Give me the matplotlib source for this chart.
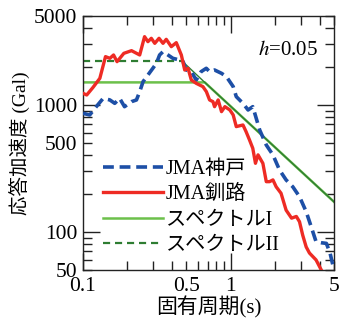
"""
加速度応答スペクトル（h=0.05）：JMA神戸・JMA釧路の観測波形と設計スペクトルI/IIの比較。
"""
import matplotlib
matplotlib.use("Agg")
import matplotlib.pyplot as plt
from matplotlib.ticker import FixedLocator, FixedFormatter

plt.rcParams["font.family"] = ["Liberation Serif", "Noto Sans CJK JP"]
plt.rcParams["mathtext.fontset"] = "stix"

# JMA神戸 (周期 s, 応答加速度 Gal)
kobe_T = [0.100, 0.111, 0.123, 0.137, 0.152, 0.164, 0.177, 0.191, 0.213, 0.230,
          0.242, 0.255, 0.275, 0.297, 0.314, 0.330, 0.348, 0.376, 0.406, 0.450,
          0.476, 0.500, 0.541, 0.584, 0.630, 0.683, 0.719, 0.777, 0.866, 0.935,
          1.039, 1.090, 1.210, 1.310, 1.410, 1.570, 1.740, 1.930, 2.140, 2.370,
          2.630, 2.920, 3.240, 3.500, 3.780, 4.080, 4.440, 4.700, 5.000]
kobe_Sa = [857, 831, 966, 1124, 1091, 1026, 1124, 966, 1058, 1091,
           1268, 1521, 1715, 1937, 2120, 2466, 2620, 2466, 2321, 2251,
           2184, 1878, 1822, 1566, 1822, 1937, 1822, 1878, 1768, 1664,
           1389, 1159, 1026, 910, 966, 633, 482, 403, 306, 256,
           226, 189, 144, 110, 83.5, 82, 81, 68, 50]

# JMA釧路
kushiro_T = [0.100, 0.106, 0.117, 0.130, 0.142, 0.152, 0.161, 0.170, 0.189, 0.213,
             0.242, 0.261, 0.275, 0.290, 0.306, 0.327, 0.348, 0.366, 0.396, 0.428,
             0.463, 0.488, 0.514, 0.541, 0.584, 0.648, 0.684, 0.719, 0.758, 0.777,
             0.822, 0.866, 0.913, 0.986, 1.039, 1.090, 1.210, 1.270, 1.340, 1.410,
             1.470, 1.530, 1.650, 1.740, 1.830, 1.930, 2.030, 2.190, 2.370, 2.580,
             2.780, 2.920, 3.070, 3.240, 3.410, 3.780, 4.080]
kushiro_Sa = [1230, 1194, 1372, 1615, 2393, 2321, 2466, 2184, 2541, 2666,
              2466, 3436, 3140, 3336, 3046, 3336, 3046, 3275, 2868, 3083,
              2466, 1878, 1937, 1566, 1475, 1389, 1268, 1091, 1058, 966,
              1091, 883, 966, 910, 831, 673, 693, 614, 528, 454,
              346, 403, 346, 248, 248, 256, 226, 201, 148, 128,
              132, 120, 94, 76, 68, 60, 50.6]

# 設計スペクトル
spec1_T = [0.1, 0.667, 5.0]
spec1_Sa = [1500, 1500, 172]
spec2_T = [0.1, 0.47, 0.667, 5.0]
spec2_Sa = [2200, 2200, 1500, 172]

fig = plt.figure(figsize=(3.41, 3.23), dpi=100)
ax = fig.add_axes([0.2434, 0.1641, 0.7361, 0.7864])

light_green = "#6cc04a"
dark_green = "#2e7d32"

ax.plot(kobe_T, kobe_Sa, color="#1d4fa6", lw=2.6, dashes=(3, 1.6),
        label="JMA神戸", zorder=3)
ax.plot(kushiro_T, kushiro_Sa, color="#ee2b24", lw=2.4,
        label="JMA釧路", zorder=4)
ax.plot(spec1_T, spec1_Sa, color=light_green, lw=1.8,
        label="スペクトルI", zorder=2)
ax.plot(spec2_T[:2], spec2_Sa[:2], color=dark_green, lw=1.6, dashes=(3.2, 2.2),
        label="スペクトルII", zorder=2)
ax.plot(spec2_T[1:], spec2_Sa[1:], color=dark_green, lw=1.0, zorder=2)

ax.set_xscale("log")
ax.set_yscale("log")
ax.set_xlim(0.1, 5)
ax.set_ylim(50, 5000)

ax.xaxis.set_major_locator(FixedLocator([0.1, 1]))
ax.xaxis.set_major_formatter(FixedFormatter(["0.1", "1"]))
x_minor = [0.2, 0.3, 0.4, 0.5, 0.6, 0.7, 0.8, 0.9, 2, 3, 4, 5]
ax.xaxis.set_minor_locator(FixedLocator(x_minor))
ax.xaxis.set_minor_formatter(FixedFormatter(
    ["0.5" if v == 0.5 else "5" if v == 5 else "" for v in x_minor]))

ax.yaxis.set_major_locator(FixedLocator([100, 1000]))
ax.yaxis.set_major_formatter(FixedFormatter(["100", "1000"]))
y_minor = [50, 60, 70, 80, 90, 200, 300, 400, 500, 600, 700, 800, 900,
           2000, 3000, 4000, 5000]
ax.yaxis.set_minor_locator(FixedLocator(y_minor))
ax.yaxis.set_minor_formatter(FixedFormatter(
    [str(v) if v in (50, 500, 5000) else "" for v in y_minor]))

ax.tick_params(which="both", direction="in", top=True, right=True,
               labelsize=15.5, width=1.0, color="#222222")
ax.tick_params(which="major", length=12)
ax.tick_params(which="minor", length=6.5)
ax.tick_params(axis="x", which="both", pad=5)
ax.tick_params(axis="y", which="both", pad=4)
for s in ax.spines.values():
    s.set_linewidth(1.0)
    s.set_color("#222222")

ax.set_xlabel("固有周期(s)", fontsize=15, labelpad=0)
ax.set_ylabel("応答加速度 (Gal)", fontsize=14, labelpad=2)

ax.text(0.935, 0.866, "$h$=0.05", transform=ax.transAxes, fontsize=15,
        ha="right", va="center")

leg = ax.legend(loc="upper left", bbox_to_anchor=(0.08, 0.435), frameon=False,
                fontsize=14.5, handlelength=3.0, handletextpad=0.1,
                labelspacing=0.32, borderpad=0, borderaxespad=0)

fig.savefig("out.png", dpi=100)
